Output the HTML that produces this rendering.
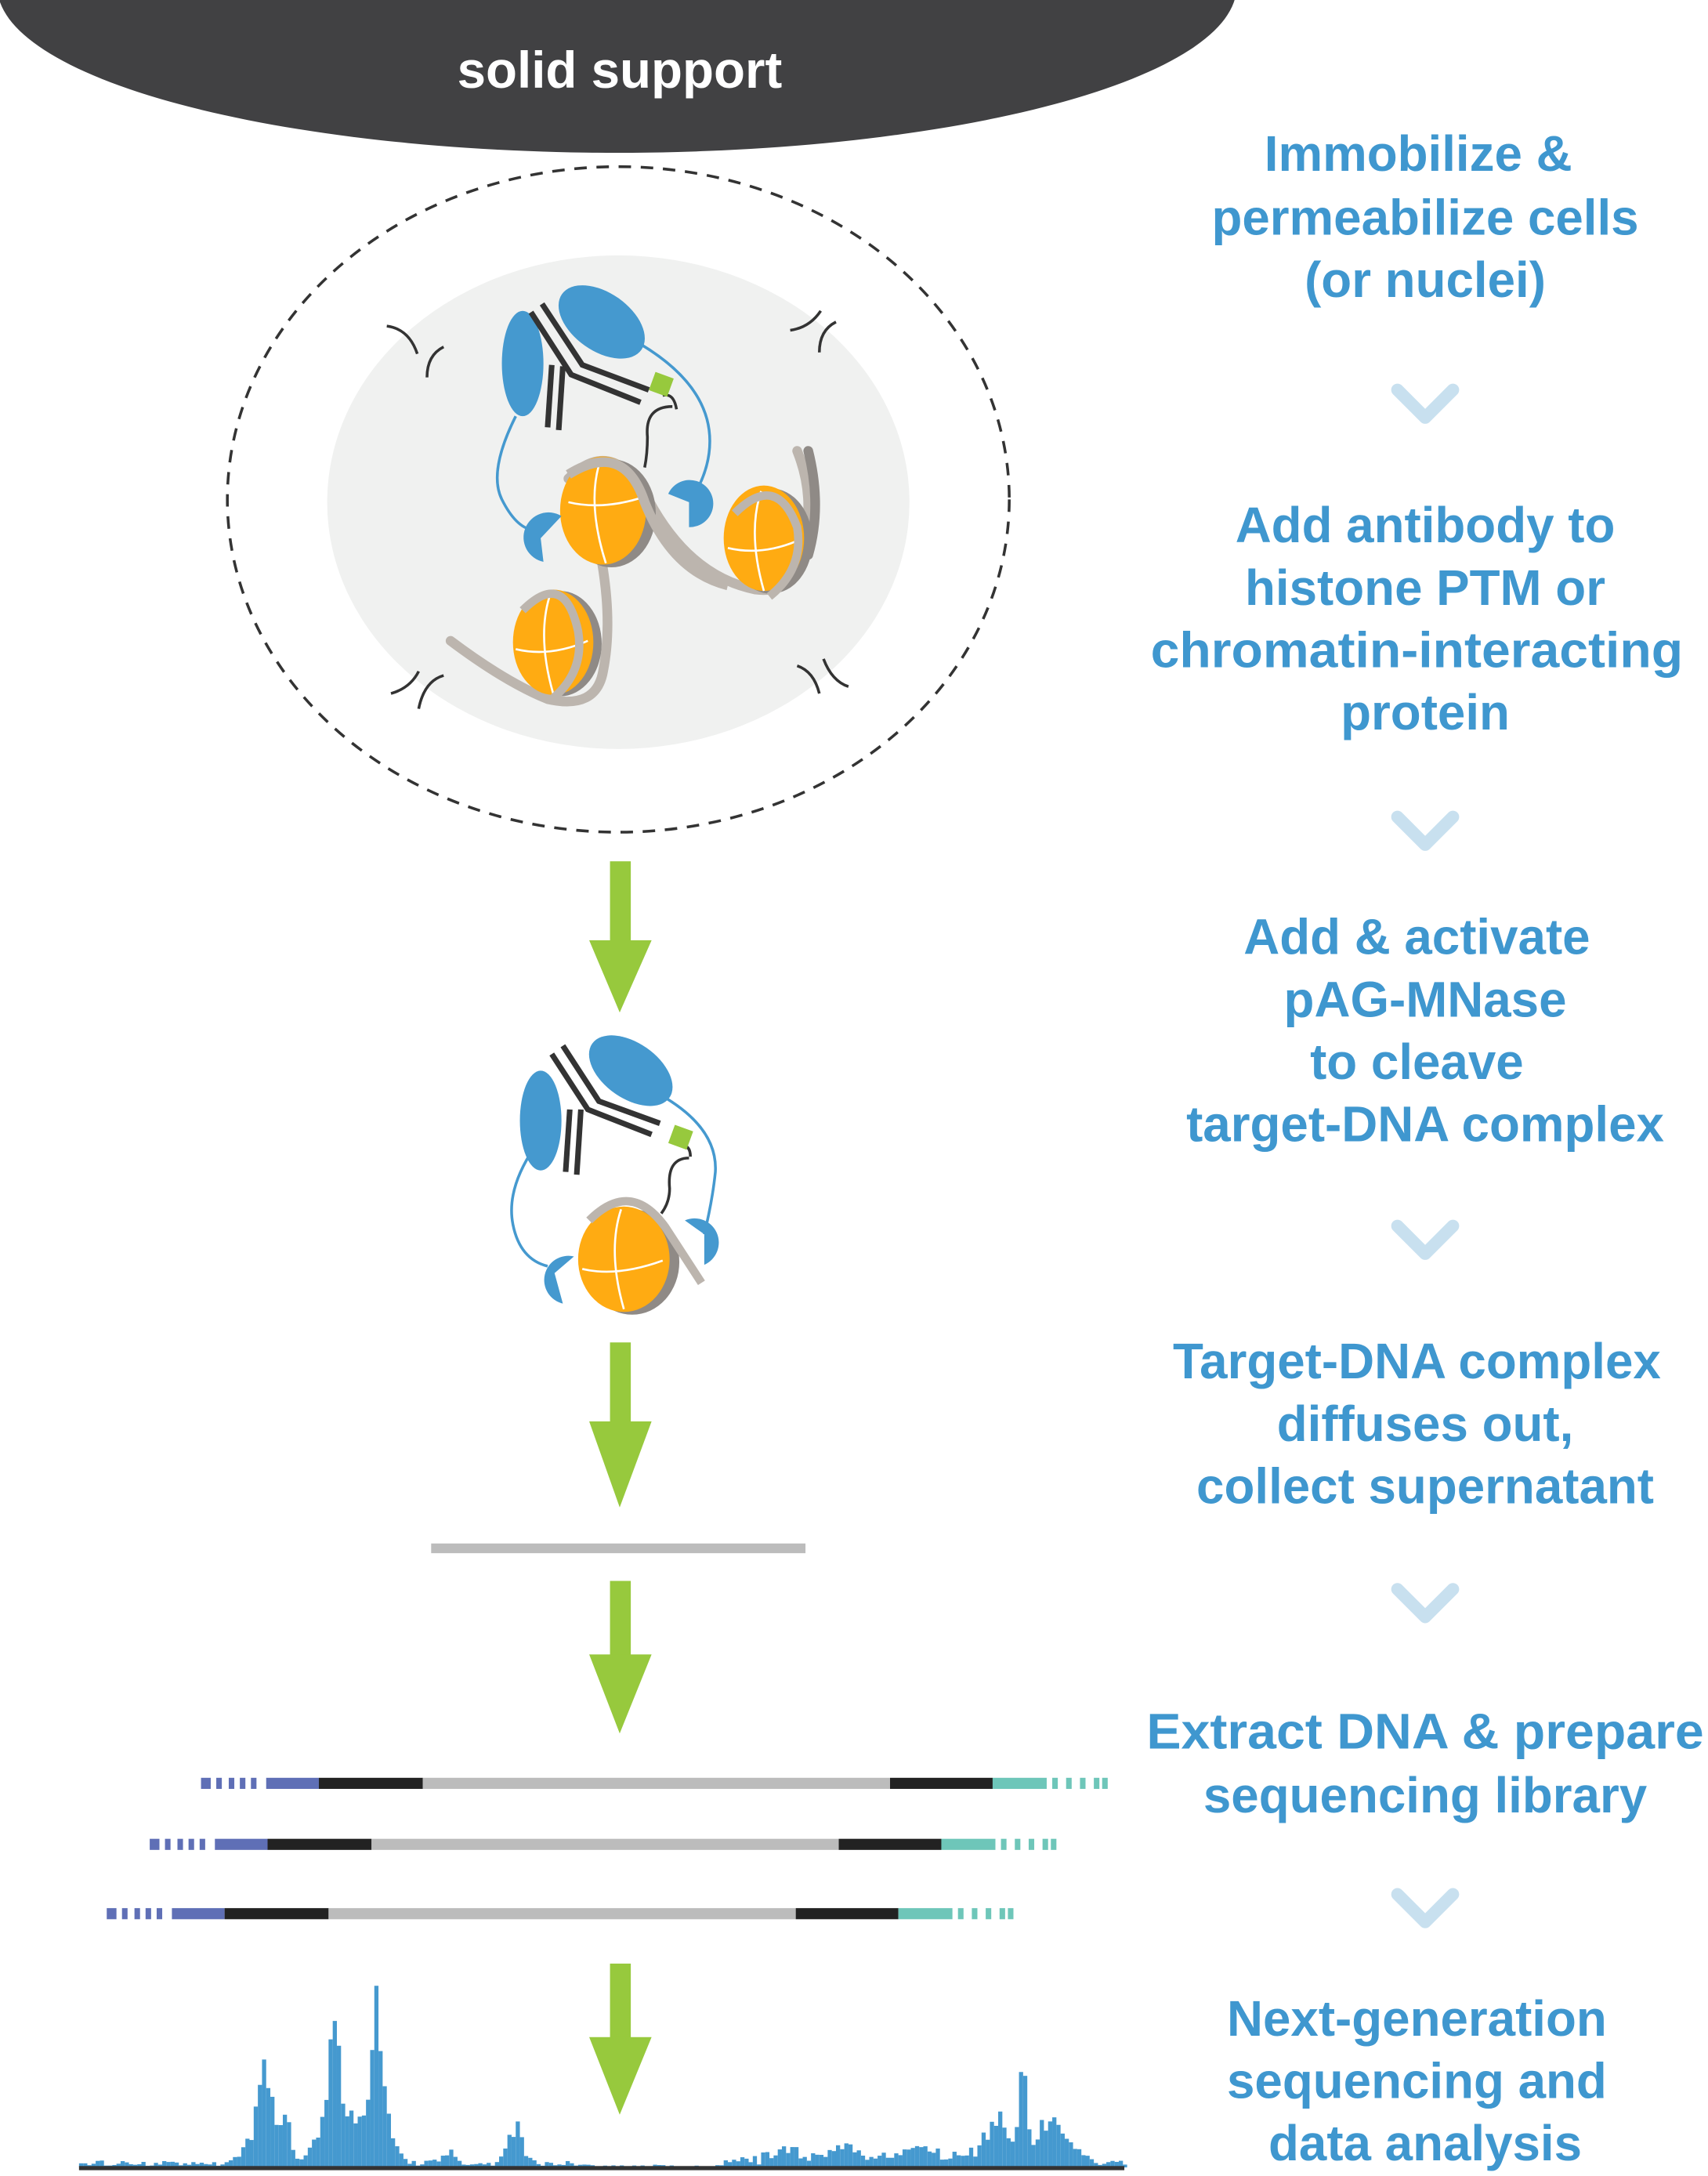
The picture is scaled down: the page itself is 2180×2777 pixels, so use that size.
<!DOCTYPE html>
<html><head><meta charset="utf-8">
<style>
html,body{margin:0;padding:0;background:#fff;}
svg{display:block;}
text{font-family:"Liberation Sans",sans-serif;font-weight:bold;}
</style></head><body>
<svg id="s" width="2180" height="2777" viewBox="0 0 1232 1569" xmlns="http://www.w3.org/2000/svg">
<ellipse cx="445" cy="-10" rx="447" ry="120" fill="#414143"/>
<text x="447" y="63" font-size="37" fill="#fff" text-anchor="middle">solid support</text>

<ellipse cx="446" cy="360" rx="282" ry="240" fill="none" stroke="#333" stroke-width="2" stroke-dasharray="9 7"/>
<ellipse cx="446" cy="362" rx="210" ry="178" fill="#f0f1f0"/>
<g fill="none" stroke="#333" stroke-width="2">
<path d="M279 235 q16 2 22 20"/><path d="M320 250 q-12 6 -12 22"/>
<path d="M570 238 q14 -2 22 -14"/><path d="M603 232 q-12 6 -12 22"/>
<path d="M282 500 q14 -4 20 -16"/><path d="M320 487 q-14 4 -18 24"/>
<path d="M575 480 q12 4 16 20"/><path d="M612 495 q-12 -4 -18 -20"/>
</g>
<g fill="none" stroke="#4599cf" stroke-width="2">
<path d="M372 300 q-20 40 -10 60 q10 20 22 22"/>
<path d="M462 248 q50 30 50 70 q0 20 -12 40"/>
</g>
<path d="M478 285 q8 -2 10 10 M485 293 q-20 0 -18 22 q0 12 -2 22" fill="none" stroke="#333" stroke-width="2"/>
<g fill="none" stroke-linecap="round">
<path d="M325 462 q40 30 70 42 q35 8 40 -20 q8 -40 -4 -95" stroke="#bcb5ae" stroke-width="7"/>
<path d="M410 345 q30 -30 55 10 q30 60 80 70 q40 5 38 -60 q0 -20 -8 -40" stroke="#bcb5ae" stroke-width="7"/>
<path d="M583 325 q10 40 0 75" stroke="#8f8a86" stroke-width="7"/>
</g>
<g>
<ellipse cx="441" cy="370" rx="32" ry="39" fill="#8f8a86"/>
<ellipse cx="435" cy="368" rx="31" ry="39" fill="#ffab12"/>
<path d="M410 362 q25 6 55 -4 M433 332 q-10 30 4 74" stroke="#fff" stroke-width="1.5" fill="none"/>
<ellipse cx="556" cy="390" rx="30" ry="38" fill="#8f8a86"/>
<ellipse cx="551" cy="388" rx="29" ry="38" fill="#ffab12"/>
<path d="M525 395 q25 6 52 -6 M549 354 q-10 30 2 72" stroke="#fff" stroke-width="1.5" fill="none"/>
<ellipse cx="404" cy="464" rx="30" ry="38" fill="#8f8a86"/>
<ellipse cx="399" cy="463" rx="29" ry="38" fill="#ffab12"/>
<path d="M372 468 q25 6 52 -6 M397 428 q-10 30 2 72" stroke="#fff" stroke-width="1.5" fill="none"/>
<path d="M410 342 q40 -25 55 20 q20 50 60 60" fill="none" stroke="#bcb5ae" stroke-width="7"/>
<path d="M377 440 q30 -30 40 15 q5 30 -20 50" fill="none" stroke="#bcb5ae" stroke-width="6"/>
<path d="M530 370 q30 -30 45 10 q5 30 -20 50" fill="none" stroke="#bcb5ae" stroke-width="6"/>
</g>
<path d="M390 388 L405 372 A18 18 0 1 0 392 405 Z" fill="#4599cf"/>
<path d="M497 362 L482 356 A17 17 0 1 1 497 380 Z" fill="#4599cf"/>
<ellipse cx="377" cy="262" rx="15" ry="38" fill="#4599cf"/>
<ellipse cx="434" cy="232" rx="35" ry="21" transform="rotate(35 434 232)" fill="#4599cf"/>
<g stroke="#333" stroke-width="4" fill="none">
<path d="M383 225 L412 270 L462 290"/>
<path d="M391 219 L420 263 L468 281"/>
<path d="M398 263 L395 308"/>
<path d="M406 264 L403 310"/>
</g>
<rect x="470" y="270" width="14" height="14" fill="#97c93d" transform="rotate(20 477 277)"/>

<g fill="#3f97cf" font-size="36" text-anchor="middle">
<text x="1023" y="123">Immobilize &amp;</text>
<text x="1028" y="169">permeabilize cells</text>
<text x="1028" y="214">(or nuclei)</text>
<text x="1028" y="391">Add antibody to</text>
<text x="1028" y="436">histone PTM or</text>
<text x="1022" y="481" textLength="384" lengthAdjust="spacingAndGlyphs">chromatin-interacting</text>
<text x="1028" y="526">protein</text>
<text x="1022" y="688">Add &amp; activate</text>
<text x="1028" y="733">pAG-MNase</text>
<text x="1022" y="778">to cleave</text>
<text x="1028" y="823">target-DNA complex</text>
<text x="1022" y="994">Target-DNA complex</text>
<text x="1028" y="1039">diffuses out,</text>
<text x="1028" y="1084">collect supernatant</text>
<text x="1028" y="1261" textLength="402" lengthAdjust="spacingAndGlyphs">Extract DNA &amp; prepare</text>
<text x="1028" y="1307">sequencing library</text>
<text x="1022" y="1468">Next-generation</text>
<text x="1022" y="1513">sequencing and</text>
<text x="1028" y="1558">data analysis</text>
</g>
<g fill="none" stroke="#c8e0ef" stroke-width="9" stroke-linejoin="round" stroke-linecap="round">
<path d="M1008 281 L1028 301 L1048 281"/>
<path d="M1008 589 L1028 609 L1048 589"/>
<path d="M1008 884 L1028 904 L1048 884"/>
<path d="M1008 1146 L1028 1166 L1048 1146"/>
<path d="M1008 1366 L1028 1386 L1048 1366"/>
</g>

<g fill="#97c93d">
<rect x="440" y="621" width="15" height="60"/><path d="M425 678 L470 678 L447 730 Z"/>
<rect x="440" y="968" width="15" height="60"/><path d="M425 1025 L470 1025 L447 1087 Z"/>
<rect x="440" y="1140" width="15" height="56"/><path d="M425 1193 L470 1193 L447 1250 Z"/>
<rect x="440" y="1416" width="15" height="56"/><path d="M425 1469 L470 1469 L447 1525 Z"/>
</g>

<g fill="none" stroke="#4599cf" stroke-width="2">
<path d="M385 828 q-20 30 -15 55 q5 25 25 30"/>
<path d="M468 785 q50 25 48 60 q-2 20 -8 45"/>
</g>
<path d="M492 826 q6 0 6 8 M497 835 q-16 0 -14 22 q0 10 -6 18" fill="none" stroke="#333" stroke-width="2"/>
<ellipse cx="456" cy="910" rx="34" ry="38" fill="#8f8a86"/>
<ellipse cx="450" cy="908" rx="33" ry="38" fill="#ffab12"/>
<path d="M420 915 q25 6 58 -6 M448 872 q-10 30 2 72" stroke="#fff" stroke-width="1.5" fill="none"/>
<path d="M425 880 q30 -30 55 5 l26 40" fill="none" stroke="#bcb5ae" stroke-width="6"/>
<path d="M400 918 L414 906 A16 16 0 1 0 406 940 Z" fill="#4599cf"/>
<path d="M508 890 L494 880 A16 16 0 1 1 508 912 Z" fill="#4599cf"/>
<ellipse cx="390" cy="808" rx="15" ry="36" fill="#4599cf"/>
<ellipse cx="455" cy="772" rx="34" ry="20" transform="rotate(35 455 772)" fill="#4599cf"/>
<g stroke="#333" stroke-width="4" fill="none">
<path d="M398 760 L424 800 L470 818"/>
<path d="M406 754 L432 794 L476 810"/>
<path d="M411 800 L408 845"/>
<path d="M419 800 L416 847"/>
</g>
<rect x="484" y="813" width="14" height="14" fill="#97c93d" transform="rotate(20 491 820)"/>

<rect x="311" y="1113" width="270" height="7" fill="#bcbcbc"/>

<g id="lib"></g>
<g id="hist" fill="#4599cf"></g>
<rect x="57" y="1562" width="754" height="3" fill="#333"/>
</svg>
<script>
(function(){
var NS="http://www.w3.org/2000/svg";
function r(g,x,y,w,h,c){var e=document.createElementNS(NS,"rect");e.setAttribute("x",x);e.setAttribute("y",y);e.setAttribute("width",w);e.setAttribute("height",h);e.setAttribute("fill",c);g.appendChild(e);}
var lib=document.getElementById("lib");
[[145,1282],[108,1326],[77,1376]].forEach(function(p){
 var x=p[0],y=p[1],h=8;
 [0,11,20,28,36].forEach(function(d,i){r(lib,x+d,y,i==0?7:4,h,"#5f6fb6");});
 r(lib,x+47,y,38,h,"#5f6fb6");
 r(lib,x+85,y,75,h,"#222");
 r(lib,x+160,y,337,h,"#bcbcbc");
 r(lib,x+497,y,74,h,"#222");
 r(lib,x+571,y,39,h,"#6ec6b9");
 [614,624,634,644,650].forEach(function(d){r(lib,x+d,y,4,h,"#6ec6b9");});
});
var hg=document.getElementById("hist");
var seed=7;function rnd(){seed=(seed*9301+49297)%233280;return seed/233280;}
var peaks=[[190,45,5],[204,40,4],[186,22,10],[240,90,3],[236,45,8],[250,30,10],[270,80,3],[266,35,8],[278,28,6],[370,30,5],[322,10,5],[736,80,3],[718,35,9],[755,35,7],[770,14,8],[608,10,10],[660,8,15],[568,8,10]];
var caps={240:131,270:115,736:108};
for(var x=57;x<811;x+=3){
 var h=1+rnd()*4;
 if(x>420&&x<520)h=rnd()*2;
 if(x>520&&x<700)h+=rnd()*6;
 peaks.forEach(function(p){var d=(x-p[0])/p[2];h+=p[1]*Math.exp(-d*d/2)*(0.6+rnd()*0.6);});
 if(h>131)h=131;
 if(h>1)r(hg,x,1563-h,3,h,"#4599cf");
}
})();
</script>
</body></html>
